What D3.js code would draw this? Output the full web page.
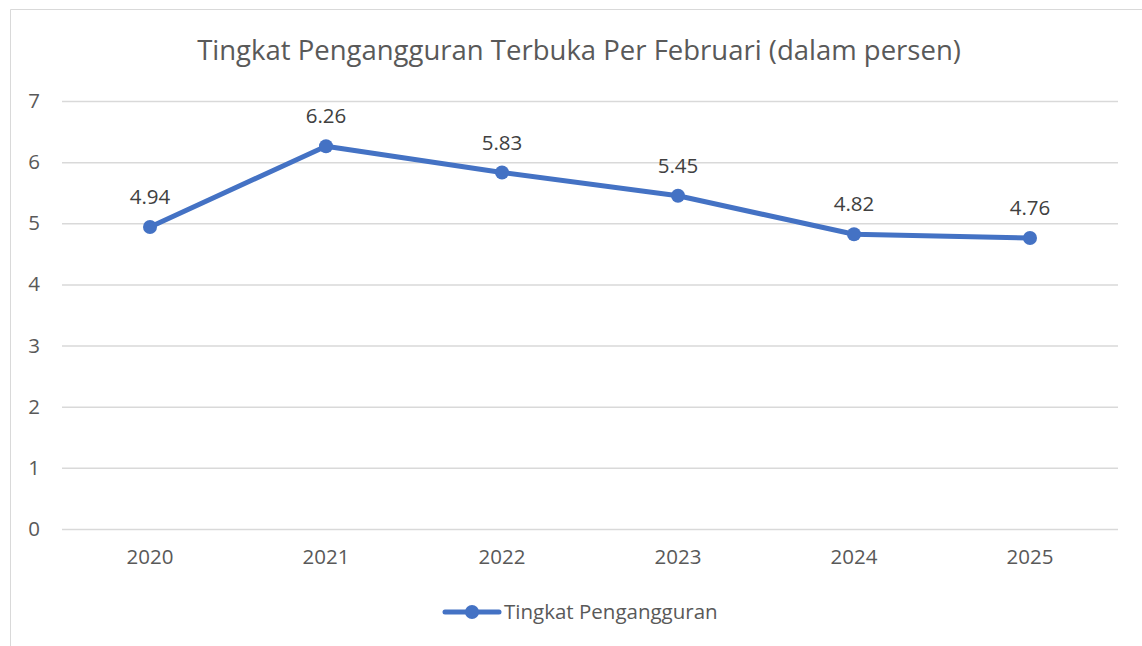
<!DOCTYPE html>
<html>
<head>
<meta charset="utf-8">
<script src="https://cdn.jsdelivr.net/npm/d3@7"></script>
<style>
  body { margin: 0; background: #fff; }
  svg { display: block; font-family: "Open Sans", "Noto Sans", sans-serif; }
</style>
</head>
<body>
<svg id="chart" width="1142" height="646"></svg>
<script>
// data
const years = ["2020", "2021", "2022", "2023", "2024", "2025"];
const rates = [4.94, 6.26, 5.83, 5.45, 4.82, 4.76];
const yTicks = [0, 1, 2, 3, 4, 5, 6, 7];
const seriesName = "Tingkat Pengangguran";
const title = "Tingkat Pengangguran Terbuka Per Februari (dalam persen)";

const blue = "#4472C4";
const textColor = "#595959";
const gridColor = "#d9d9d9";
const fs = 20.5;

const plot = { left: 62, right: 1118, top: 101, bottom: 529 };

const svg = d3.select("#chart");

// chart frame (only left and top edges are in view)
svg.append("path")
    .attr("d", "M10.5 646 L10.5 9.5 L1142 9.5")
    .attr("fill", "none")
    .attr("stroke", gridColor)
    .attr("stroke-width", 1);

svg.append("text")
    .attr("x", 579)
    .attr("y", 60)
    .attr("text-anchor", "middle")
    .attr("font-size", 27.5)
    .attr("fill", textColor)
    .text(title);

const x = d3.scaleBand()
    .domain(years)
    .range([plot.left, plot.right])
    .padding(0);

const y = d3.scaleLinear()
    .domain([0, 7])
    .range([plot.bottom, plot.top]);

// gridlines + y labels
const yAxis = d3.axisLeft(y)
    .tickValues(yTicks)
    .tickSize(-(plot.right - plot.left))
    .tickFormat(d3.format("d"));

const gy = svg.append("g")
    .attr("transform", `translate(${plot.left},0)`)
    .call(yAxis)
    .attr("font-family", null)
    .attr("font-size", null);
gy.select(".domain").remove();
gy.selectAll(".tick line").attr("stroke", gridColor).attr("stroke-width", 1.5);
gy.selectAll(".tick text")
    .attr("font-size", fs)
    .attr("fill", textColor)
    .attr("text-anchor", "middle")
    .attr("x", -28);

// x labels
const xAxis = d3.axisBottom(x).tickSize(0).tickPadding(20);
const gx = svg.append("g")
    .attr("transform", `translate(0,${plot.bottom})`)
    .call(xAxis)
    .attr("font-family", null)
    .attr("font-size", null);
gx.select(".domain").remove();
gx.selectAll(".tick text")
    .attr("font-size", fs)
    .attr("fill", textColor);

const pts = years.map((yr, i) => ({ yr: yr, v: rates[i] }));
const cx = d => x(d.yr) + x.bandwidth() / 2;

const line = d3.line()
    .x(cx)
    .y(d => y(d.v));

svg.append("path")
    .datum(pts)
    .attr("d", line)
    .attr("fill", "none")
    .attr("stroke", blue)
    .attr("stroke-width", 5)
    .attr("stroke-linejoin", "round")
    .attr("stroke-linecap", "round");

svg.selectAll("circle.pt")
    .data(pts)
    .enter()
    .append("circle")
    .attr("class", "pt")
    .attr("cx", cx)
    .attr("cy", d => y(d.v))
    .attr("r", 7)
    .attr("fill", blue);

svg.selectAll("text.lbl")
    .data(pts)
    .enter()
    .append("text")
    .attr("class", "lbl")
    .attr("x", cx)
    .attr("y", d => y(d.v) - 23)
    .attr("text-anchor", "middle")
    .attr("font-size", fs)
    .attr("fill", "#404040")
    .text(d => d.v.toFixed(2));

// legend
const lg = svg.append("g").attr("transform", "translate(445,612)");
lg.append("line")
    .attr("x1", 0).attr("x2", 54)
    .attr("y1", 0).attr("y2", 0)
    .attr("stroke", blue)
    .attr("stroke-width", 5)
    .attr("stroke-linecap", "round");
lg.append("circle")
    .attr("cx", 27).attr("cy", 0).attr("r", 7)
    .attr("fill", blue);
lg.append("text")
    .attr("x", 59)
    .attr("y", 7)
    .attr("font-size", fs)
    .attr("fill", textColor)
    .text(seriesName);
</script>
</body>
</html>
